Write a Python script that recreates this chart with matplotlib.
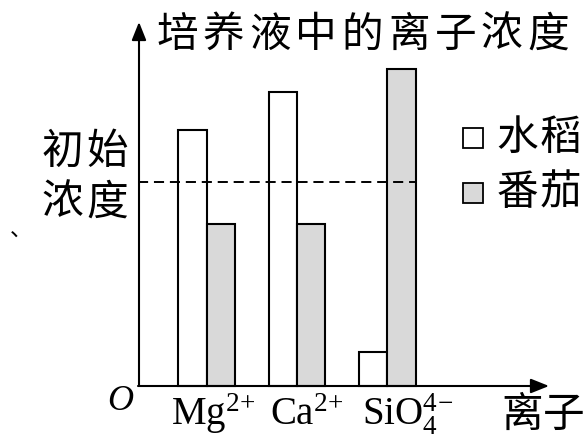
import matplotlib
matplotlib.use("Agg")
import matplotlib.pyplot as plt
from matplotlib.patches import Rectangle

# ---- data ----
categories = [r"$\mathrm{Mg}^{2\!+}$", r"$\mathrm{Ca}^{2\!+}$", r"$\mathrm{SiO}_4^{4\!-}$"]
rice = [125.5, 144.0, 16.5]      # 水稻
tomato = [79.5, 79.5, 155.5]     # 番茄
initial = 100.0                  # 初始浓度
series_names = ["水稻", "番茄"]
title_text = "培养液中的离子浓度"
ylabel_lines = ["初始", "浓度"]
xlabel_text = "离子"

plt.rcParams['mathtext.fontset'] = 'custom'
plt.rcParams['mathtext.rm'] = 'Liberation Serif'
plt.rcParams['mathtext.it'] = 'Liberation Serif:italic'
CJK = ['Noto Sans CJK SC', 'DejaVu Sans']

fig = plt.figure(figsize=(5.84, 4.36), dpi=100)
ax = fig.add_axes([0, 0, 1, 1])
ax.axis('off')

# pixel -> data helpers (layout only)
PXU = 90.0
PYU = 2.04
def X(px):
    return (px - 207.0) / PXU
def Y(py):
    return (386.0 - py) / PYU

ax.set_xlim(X(0), X(584))
ax.set_ylim(Y(436), Y(0))

w = 28.5 / PXU
xs = list(range(len(categories)))
lw = 1.5
ax.bar([x - w / 2 for x in xs], rice, width=w, color='white', edgecolor='black', linewidth=lw, zorder=3)
ax.bar([x + w / 2 for x in xs], tomato, width=w, color='#d9d9d9', edgecolor='black', linewidth=lw, zorder=3)

# dashed initial line
ax.plot([X(138), xs[-1] + w], [initial, initial], color='black', lw=1.4,
        dashes=(5.2, 3.0), zorder=4)

# axes with arrows
arrow = dict(arrowstyle='-|>,head_length=0.55,head_width=0.22', lw=1.5,
             color='black', shrinkA=0, shrinkB=0, mutation_scale=20)
ax.annotate('', xy=(X(549), 0), xytext=(X(138), 0), arrowprops=arrow, zorder=5)
ax.annotate('', xy=(X(139), Y(22)), xytext=(X(139), 0), arrowprops=arrow, zorder=5)

# title characters
fs_cjk = 30
for i, ch in enumerate(title_text):
    ax.text(X(177 + i * 46.4), Y(35), ch, fontsize=fs_cjk, family=CJK,
            ha='center', va='center')

# left label
for r, line in enumerate(ylabel_lines):
    for i, ch in enumerate(line):
        ax.text(X(62 + i * 45), Y(152 + r * 51), ch, fontsize=fs_cjk, family=CJK,
                ha='center', va='center')
ax.text(X(10), Y(237), "、", fontsize=16, family=CJK, ha='left', va='baseline')

# legend
for k, (name, fc) in enumerate(zip(series_names, ['white', '#d9d9d9'])):
    yc = 138 + k * 55
    ax.add_patch(Rectangle((X(463), Y(yc + 10)), 20 / PXU, 20 / PYU,
                           facecolor=fc, edgecolor='black', linewidth=1.3, zorder=5))
    for i, ch in enumerate(name):
        ax.text(X(517 + i * 43), Y(yc), ch, fontsize=fs_cjk, family=CJK,
                ha='center', va='center')

# x labels
offsets = [6, 10, 21]
for x, lab, off in zip(xs, categories, offsets):
    ax.text(x + off / PXU, Y(425), lab, fontsize=28, ha='center', va='baseline')

for i, ch in enumerate(xlabel_text):
    ax.text(X(522 + i * 42), Y(415), ch, fontsize=fs_cjk, family=CJK,
            ha='center', va='center')

ax.text(X(120), Y(401), "O", fontsize=26, family='Liberation Serif', style='italic',
        ha='center', va='center')

fig.savefig("out.png", dpi=100)
